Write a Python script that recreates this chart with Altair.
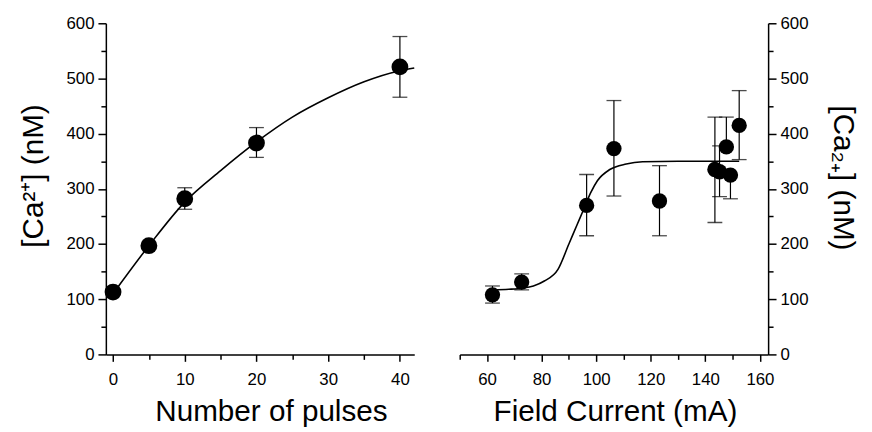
import altair as alt
import pandas as pd

FONT = "Liberation Sans"

# ---- Left panel: number of pulses ----
pulses = [0, 5, 10, 20, 40]
pulses_ca = [113, 197, 282, 383, 521]
pulses_lo = [113, 197, 263, 357, 466]
pulses_hi = [113, 197, 302, 411, 576]

pulses_fit_x = [0, 5, 10, 15, 20, 25, 30, 35, 40, 42]
pulses_fit_y = [110, 197, 276, 333, 385, 430, 465, 494, 514, 519]

pulses_ticks = [0, 5, 10, 15, 20, 25, 30, 35, 40]

# ---- Right panel: field current ----
current = [62, 72.7, 96.5, 106.5, 123.2, 143.5, 145.2, 147.7, 149.2, 152.4]
current_ca = [108, 131, 270, 373, 278, 335, 331, 376, 325, 415]
current_lo = [93, 117, 215, 287, 215, 239, 286, 376, 282, 353]
current_hi = [124, 146, 326, 460, 342, 430, 378, 430, 325, 478]

current_fit_x = [62, 68, 73, 77, 81, 86, 90, 93, 95, 98, 100.5, 105, 111, 117, 130, 152.4]
current_fit_y = [117, 118, 120, 124, 133, 154, 200, 235, 258, 293, 315, 335, 345, 349, 350, 350]

current_ticks = [50, 60, 70, 80, 90, 100, 110, 120, 130, 140, 150, 160]

ca_ticks = [0, 50, 100, 150, 200, 250, 300, 350, 400, 450, 500, 550, 600]

left_pts = pd.DataFrame({"x": pulses, "y": pulses_ca, "lo": pulses_lo, "hi": pulses_hi})
left_fit = pd.DataFrame({"x": pulses_fit_x, "y": pulses_fit_y})
right_pts = pd.DataFrame({"x": current, "y": current_ca, "lo": current_lo, "hi": current_hi})
right_fit = pd.DataFrame({"x": current_fit_x, "y": current_fit_y})


def y_axis(orient, title, angle, title_y, pad):
    return alt.Axis(
        orient=orient,
        values=ca_ticks,
        format="d",
        labelExpr="datum.value % 100 === 0 ? datum.label : ''",
        tickSize={"condition": {"test": "datum.value % 100 === 0", "value": 8}, "value": 5},
        labelPadding=4,
        title=title,
        titleAngle=angle,
        titleY=title_y,
        titlePadding=pad,
    )


def make_panel(pts, fit, xdomain, xticks, xlab_test, xmajor_test, xtitle, xtitle_x,
               yorient, ytitle, yangle, ytitle_y, ypad, msize):
    xaxis = alt.Axis(
        values=xticks,
        format="d",
        labelExpr=f"{xlab_test} ? datum.label : ''",
        tickSize={"condition": {"test": xmajor_test, "value": 7}, "value": 5},
        labelPadding=10,
        title=xtitle,
        titleX=xtitle_x,
        titlePadding=10,
    )
    xs = alt.Scale(domain=xdomain, nice=False, zero=False)
    ys = alt.Scale(domain=[0, 600], nice=False)
    X = alt.X("x:Q", scale=xs, axis=xaxis)
    Y = lambda f: alt.Y(f, scale=ys, axis=y_axis(yorient, ytitle, yangle, ytitle_y, ypad))

    curve = alt.Chart(fit).mark_line(color="black", strokeWidth=1.6, interpolate="monotone").encode(
        x=X, y=Y("y:Q"))
    rules = alt.Chart(pts).mark_rule(color="black", strokeWidth=1.2).encode(
        x=X, y=Y("lo:Q"), y2="hi:Q")
    cap_lo = alt.Chart(pts).mark_tick(orient="horizontal", size=15, thickness=1.3, color="black").encode(
        x=X, y=Y("lo:Q"))
    cap_hi = alt.Chart(pts).mark_tick(orient="horizontal", size=15, thickness=1.3, color="black").encode(
        x=X, y=Y("hi:Q"))
    dots = alt.Chart(pts).mark_circle(color="black", opacity=1, size=msize).encode(
        x=X, y=Y("y:Q"))
    return alt.layer(curve, rules, cap_lo, cap_hi, dots).properties(width=312, height=335)


left = make_panel(left_pts, left_fit, [-1, 42], pulses_ticks,
                  "datum.value % 10 === 0", "datum.value % 10 === 0",
                  "Number of pulses", 167,
                  "left", "[Ca²⁺] (nM)", -90, 154, 18, 290)

right = make_panel(right_pts, right_fit, [50, 163], current_ticks,
                   "(datum.value % 20 === 0 && datum.value >= 60)", "datum.value % 20 === 0",
                   "Field Current (mA)", 157,
                   "right", "[Ca₂₊] (nM)", 90, 156, 20, 240)

chart = alt.hconcat(left, right, spacing=41).properties(
    padding={"left": 10, "top": 4, "right": 6, "bottom": 0}
).configure(font=FONT).configure_view(stroke=None).configure_axis(
    grid=False,
    domainColor="black", domainWidth=1.5,
    tickColor="black", tickWidth=1.5,
    labelColor="black", titleColor="black",
    labelFont=FONT, titleFont=FONT,
    labelFontSize=17, titleFontSize=30, titleFontWeight="normal",
    labelOverlap=False, labelFlush=False,
)

chart.save("out.html", embed_options={"renderer": "svg", "actions": False})
